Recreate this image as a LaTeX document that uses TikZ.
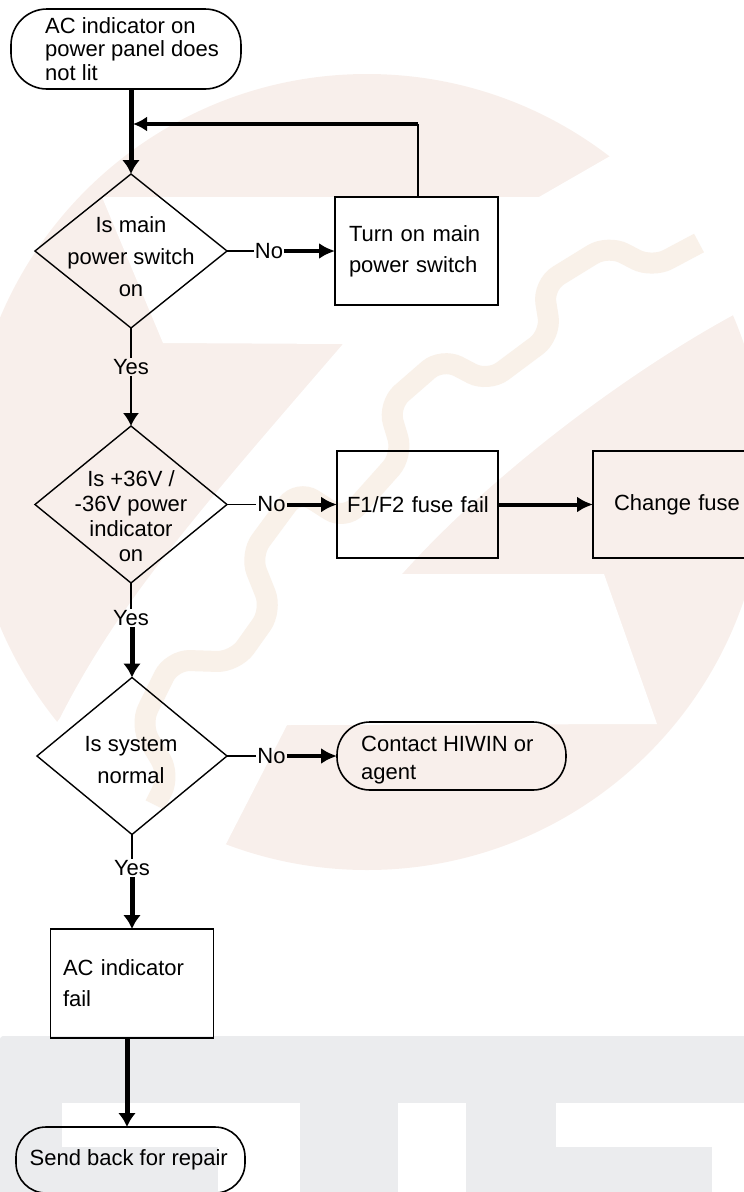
\documentclass[tikz,border=0pt]{standalone}
\usepackage{fontspec}
\setmainfont{Liberation Sans}
\usetikzlibrary{arrows.meta,shapes.geometric}

\definecolor{peach}{HTML}{F8EFEB}
\definecolor{sand}{HTML}{F9F1E9}
\definecolor{band}{HTML}{EBECEE}

\tikzset{
	decision/.style={draw, diamond, line width=1.4pt, inner sep=0pt, outer sep=0pt, aspect=1.25},
	dectext/.style={font=\fontsize{22}{32}\selectfont, align=center, inner sep=0pt},
	stepbox/.style={draw, rectangle, line width=1.4pt, inner sep=0pt, outer sep=0pt, align=left, font=\fontsize{22}{31}\selectfont},
	pillbox/.style={draw, rectangle, line width=1.6pt, inner sep=0pt, outer sep=0pt},
	pilltext/.style={anchor=west, align=left, inner sep=0pt},
	tag/.style={font=\fontsize{22}{24}\selectfont, inner sep=1pt},
	thinline/.style={line width=1.4pt},
	thinarrow/.style={line width=1.4pt, -{Latex[length=13pt,width=16pt]}},
	boldarrow/.style={line width=4pt, -{Latex[length=16pt,width=16pt]}},
	fatarrow/.style={line width=5pt, -{Latex[length=14pt,width=18pt]}}
}

\begin{document}
\begin{tikzpicture}[x=1pt, y=-1pt]
\clip (0,0) rectangle (744,1192);

% watermark
\fill[peach] (367,472) circle (398pt);
\fill[white] (102,197) -- (539,197) -- (612,155) -- (720,93) -- (800,93) -- (800,280) -- (737,313)
	.. controls (640,365) and (500,465) .. (402,574) -- (604,574) -- (657,724) -- (287,725)
	-- (227,842) -- (210,875) -- (30,760) -- (60,718)
	.. controls (120,600) and (200,510) .. (343,344) -- (163,343) -- cycle;
\draw[sand, line width=21pt, rounded corners=18pt] (699,243) -- (652,268) -- (608,245) -- (543,285)
	-- (551,335) -- (488,382) -- (442,358) -- (388,405) -- (403,455) -- (345,520) -- (298,490)
	-- (250,555) -- (272,610) -- (235,662) -- (172,660) -- (140,725) -- (170,775) -- (155,805);
\fill[band] (0,1041) .. controls (0,1037) and (1,1036) .. (5,1036) -- (744,1036) -- (744,1192) -- (0,1192) -- cycle;
\fill[white] (62,1103) rectangle (300,1147);
\fill[white] (218,1147) rectangle (300,1192);
\fill[white] (398,1103) rectangle (466,1192);
\fill[white] (556,1103) rectangle (744,1147);
\fill[white] (712,1147) rectangle (744,1192);

% nodes
\node[pillbox, rounded corners=36pt, minimum width=230pt, minimum height=80pt] (start) at (126,49) {};
\node[pilltext, font=\fontsize{22}{23.5}\selectfont] (starttext) at (45,49) {AC indicator on\\power panel does\\not lit};

\node[decision, minimum width=192pt, minimum height=154pt] (main) at (131,251) {};
\node[dectext] (maintext) at (131,257) {Is main\\power switch\\on};
\node[stepbox, minimum width=163pt, minimum height=108pt, text width=135pt] (turnon) at (416.5,251) {Turn on main\\power switch};

\node[decision, minimum width=192pt, minimum height=157pt] (volt) at (131,504.5) {};
\node[dectext, font=\fontsize{22}{25}\selectfont] (volttext) at (131,516) {Is +36V /\\-36V power\\indicator\\on};
\node[stepbox, minimum width=161pt, minimum height=107pt, text width=141pt] (fuse) at (417.5,504.5) {\mbox{F1/F2 fuse fail}};
\node[stepbox, minimum width=170pt, minimum height=107pt, text width=128pt] (change) at (678,504.5) {Change fuse};

\node[decision, minimum width=190pt, minimum height=157pt] (normal) at (132,756) {};
\node[dectext] (normaltext) at (131,760) {Is system\\normal};
\node[pillbox, rounded corners=33pt, minimum width=229pt, minimum height=68pt] (contact) at (451.5,756) {};
\node[pilltext, font=\fontsize{22}{28}\selectfont] (contacttext) at (361,760) {Contact HIWIN or\\agent};

\node[stepbox, minimum width=162.5pt, minimum height=109pt, text width=138pt] (acfail) at (132,983.5) {AC indicator\\fail};
\node[pillbox, rounded corners=30pt, minimum width=229pt, minimum height=66pt] (repair) at (130.5,1160) {};
\node[pilltext, font=\fontsize{22}{24}\selectfont] (repairtext) at (29.5,1160) {Send back for repair};

\node[tag] (no1) at (269,251) {No};
\node[tag] (no2) at (271.5,504.5) {No};
\node[tag] (no3) at (271.5,756) {No};
\node[tag] (yes1) at (131,367) {Yes};
\node[tag] (yes2) at (131,618) {Yes};
\node[tag] (yes3) at (132,868) {Yes};

\coordinate (loop) at (418,124);
\coordinate (join) at (133,124);

% connectors
\draw[fatarrow] ([xshift=5pt]start.south) -- (main.north);
\draw[thinline] (turnon.north -| loop) -- (loop);
\draw[line width=3.5pt, -{Latex[length=14pt,width=15pt]}] (loop) -- (join);

\draw[thinline] (main.east) -- (no1);
\draw[boldarrow] (no1) -- (turnon.west);
\draw[thinline] (main.south) -- (yes1);
\draw[thinarrow] (yes1) -- (volt.north);

\draw[thinline] (volt.east) -- (no2);
\draw[boldarrow] (no2) -- (fuse.west);
\draw[boldarrow] (fuse.east) -- (change.west);
\draw[thinline] (volt.south) -- (yes2);
\draw[fatarrow] (yes2.south -| normal.north) -- (normal.north);

\draw[thinline] (normal.east) -- (no3);
\draw[boldarrow] (no3) -- (contact.west);
\draw[thinline] (normal.south) -- (yes3);
\draw[fatarrow] (yes3.south -| acfail.north) -- (acfail.north);

\draw[fatarrow] ([xshift=-5pt]acfail.south) -- ([xshift=-3.5pt]repair.north);
\end{tikzpicture}
\end{document}
